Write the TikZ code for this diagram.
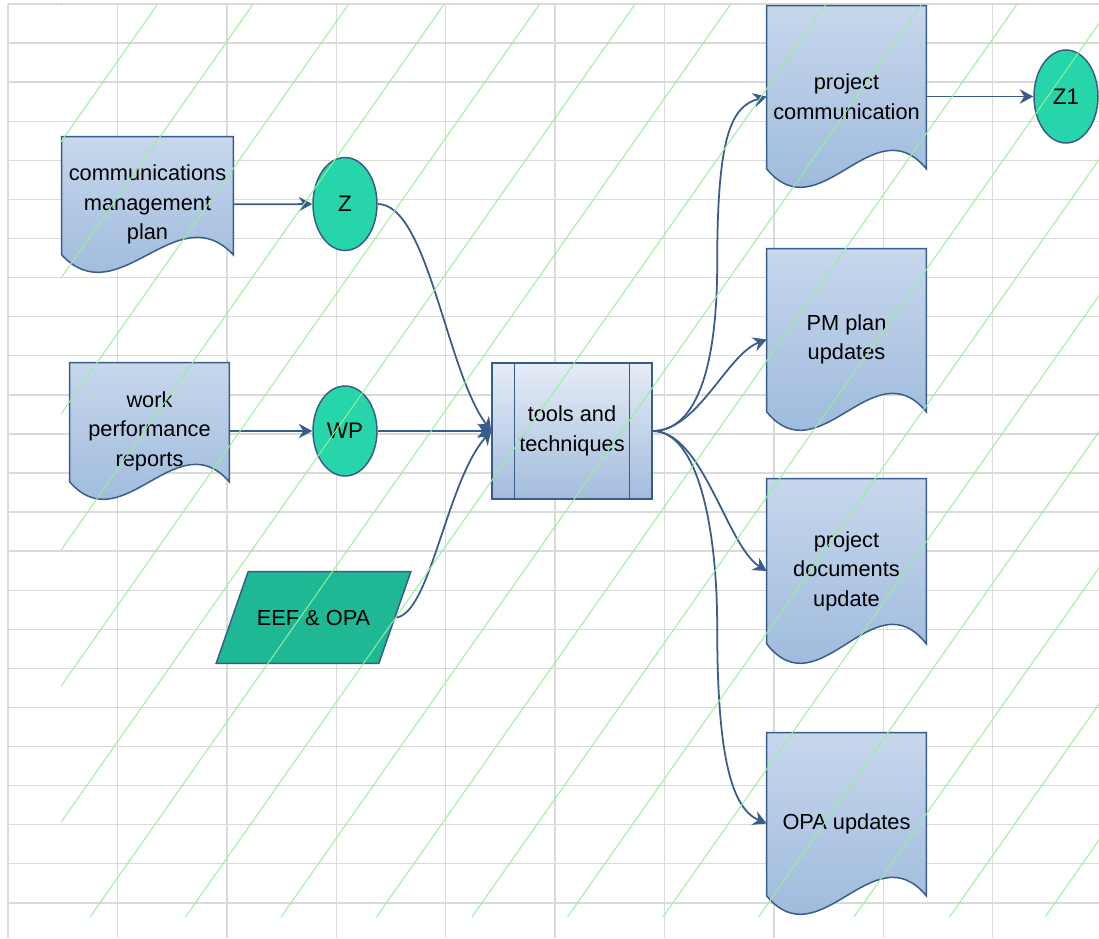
\documentclass[tikz,border=0pt]{standalone}
\usepackage{fontspec}
\setmainfont{Liberation Sans}
\usetikzlibrary{shapes.geometric, arrows.meta, calc}
\definecolor{myline}{RGB}{56,93,138}
\definecolor{doctop}{RGB}{199,215,236}
\definecolor{docbot}{RGB}{149,180,217}
\definecolor{tooltop}{RGB}{229,236,246}
\definecolor{toolbot}{RGB}{163,188,220}
\definecolor{myteal}{RGB}{38,214,170}
\definecolor{mygreen}{RGB}{31,184,149}
\definecolor{gridgray}{RGB}{218,218,218}
\definecolor{hatchgreen}{RGB}{150,240,155}
\pgfdeclarelayer{grid}
\pgfdeclarelayer{shapes}
\pgfsetlayers{grid,shapes,main}
\tikzset{
	docline/.style={draw=myline, line width=0.85pt},
	doc/.style={
		rectangle,
		inner sep=0pt,
		align=center,
		font=\fontsize{12.4}{16.8}\selectfont
	},
	bubble/.style={
		ellipse,
		docline,
		fill=myteal,
		inner sep=0pt,
		minimum width=1.28cm,
		minimum height=1.86cm,
		font=\fontsize{12.8}{15}\selectfont
	}
}
% document outline with wavy bottom, drawn below the node text
\newcommand{\docshape}[2]{%
	\begin{pgfonlayer}{shapes}
		\draw[docline, top color=doctop, bottom color=docbot]
		(#1.north west) -- (#1.north east) -- ($(#1.south east)+(0,-#2)$)
		.. controls ($(#1.south east)!.33!(#1.south west)+(0,-4.46*#2)$)
		and ($(#1.south west)!.33!(#1.south east)+(0,2.46*#2)$)
		.. ($(#1.south west)+(0,-#2)$) -- cycle;
	\end{pgfonlayer}}

\begin{document}
\begin{tikzpicture}[x=0.02cm, y=-0.02cm]
	\tikzset{conn/.style={draw=myline, line width=1pt, -{Stealth[length=0.27cm, width=0.29cm, inset=0.09cm]}}}
	\tikzset{gridline/.style={draw=gridgray, line width=0.8pt}}
	\tikzset{hatch/.style={draw=hatchgreen, line width=0.55pt}}
	\useasboundingbox (0,0) rectangle (1099,938);
	
	% sheet grid
	\begin{pgfonlayer}{grid}
		\fill[white] (0,0) rectangle (1099,938);
		\foreach \i in {0,...,9}
		\draw[gridline] (8+109.4*\i,4) -- (8+109.4*\i,938);
		\foreach \j in {0,...,23}
		\draw[gridline] (8,4+39.08*\j) -- (1099,4+39.08*\j);
	\end{pgfonlayer}
	
	% inputs
	\node(cmp) at (147.5,204.5) [doc, minimum width=3.42cm, minimum height=2.70cm] {communications\\management\\plan};
	\node(wpr) at (149.5,431) [doc, minimum width=3.18cm, minimum height=2.72cm] {work\\performance\\reports};
	\node(eef) at (313.5,617.5) [doc, minimum width=3.24cm, minimum height=1.82cm] {EEF \& OPA};
	
	\node(z) at (345,204) [bubble] {Z};
	\node(wp) at (345,431) [bubble, minimum height=1.8cm] {WP};
	
	\node(tools) at (572,431) [doc, docline, top color=tooltop, bottom color=toolbot, minimum width=3.2cm, minimum height=2.72cm] {tools and\\techniques};
	\draw[docline] ($(tools.north west)+(23,0)$) -- ($(tools.south west)+(23,0)$);
	\draw[docline] ($(tools.north east)+(-23,0)$) -- ($(tools.south east)+(-23,0)$);
	
	% outputs
	\node(pc) at (846.5,96.5) [doc, minimum width=3.18cm, minimum height=3.62cm] {project\\communication};
	\node(pmu) at (846.5,339.5) [doc, minimum width=3.18cm, minimum height=3.62cm] {PM plan\\updates};
	\node(pdu) at (846.5,571) [doc, minimum width=3.18cm, minimum height=3.68cm] {project\\documents\\update};
	\node(opau) at (846.5,823.5) [doc, minimum width=3.18cm, minimum height=3.62cm] {OPA updates};
	
	\node(z1) at (1066,96.5) [bubble] {Z1};
	
	\docshape{cmp}{17.5}
	\docshape{wpr}{17.5}
	\docshape{pc}{18.5}
	\docshape{pmu}{18.5}
	\docshape{pdu}{19.5}
	\docshape{opau}{18.5}
	
	\begin{pgfonlayer}{shapes}
		\draw[docline, fill=mygreen] ($(eef.south west)+(-16,0)$) -- ($(eef.north west)+(16,0)$) -- ($(eef.north east)+(16,0)$) -- ($(eef.south east)+(-16,0)$) -- cycle;
	\end{pgfonlayer}
	
	\draw[conn] (cmp) -- (z);
	\draw[conn] (wpr) -- (wp);
	\draw[conn] (wp) -- (tools);
	\draw[conn] (z.east) .. controls +(50,0) and +(-45,-60) .. (tools.west);
	\draw[conn] (eef.east) .. controls +(35,0) and +(-45,50) .. (tools.west);
	
	\draw[conn] (tools.east) .. controls +(45,0) and +(0,100) .. ($(tools.east)!.5!(pc.west)+(7.5,0)$) .. controls +(0,-130) and +(-35,10) .. (pc.west);
	\draw[conn] (tools.east) .. controls +(45,0) and +(-40,15) .. (pmu.west);
	\draw[conn] (tools.east) .. controls +(50,0) and +(-40,-25) .. (pdu.west);
	\draw[conn] (tools.east) .. controls +(45,0) and +(0,-100) .. ($(tools.east)!.5!(opau.west)+(7.5,0)$) .. controls +(0,130) and +(-35,-15) .. (opau.west);
	\draw[conn] (pc) -- (z1);
	
	% green hatching on top
	\begin{scope}
		\clip (61,5) rectangle (1099,917);
		\foreach \k in {-7,...,10}
		\draw[hatch] (90+95.5*\k,917) -- ++(640,-912);
	\end{scope}
\end{tikzpicture}
\end{document}
